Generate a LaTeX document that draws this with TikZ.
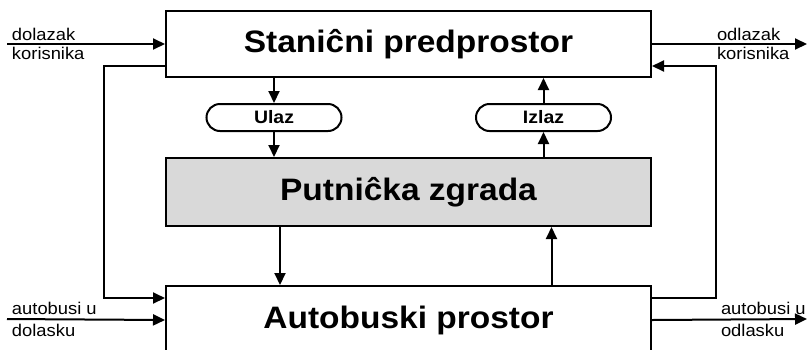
\documentclass[tikz,border=0pt]{standalone}
\usepackage{fontspec}
\setmainfont{Liberation Sans}[FakeStretch=1.08]
\usepackage{xcolor}
\usetikzlibrary{positioning,arrows.meta}
\definecolor{zgradagray}{RGB}{217,217,217}

\begin{document}
\begin{tikzpicture}
[
x=1pt, y=-1pt,
line width=2pt,
>={Triangle[length=12pt, width=11pt]},
box-a/.style={rectangle, draw, minimum width=485pt, minimum height=66pt, font=\fontsize{31}{35}\selectfont\bfseries},
box-b/.style={box-a, fill=zgradagray, minimum height=68pt},
pill-a/.style={rectangle, draw, rounded corners=13.5pt, minimum width=135pt, minimum height=27pt, inner sep=0pt, font=\fontsize{18}{20}\selectfont\bfseries},
text-a/.style={inner sep=0pt, font=\fontsize{17}{19}\selectfont}
]

\useasboundingbox (0,0) rectangle (808,349);

\node (stanica) [box-a]                            at (408.5,44) {Staniĉni predprostor};
\node (zgrada)  [box-b, below = 79pt of stanica]                {Putniĉka zgrada};
\node (autobus) [box-a, below = 58pt of zgrada, minimum height=68pt] {Autobuski prostor};
\node (ulaz)    [pill-a]                           at (274,117.5) {Ulaz};
\node (izlaz)   [pill-a]                           at (543.5,117.5) {Izlaz};

\coordinate (dolazak-in)  at (7,44);
\coordinate (odlazak-out) at (807,44);
\coordinate (bus-in)      at (7,319);
\coordinate (bus-out)     at (807,319);

\node (dolazak-t) [text-a, anchor=base west] at (11,40)  {dolazak};
\node (dolazak-b) [text-a, anchor=base west] at (11,59)  {korisnika};
\node (odlazak-t) [text-a, anchor=base west] at (716,40) {odlazak};
\node (odlazak-b) [text-a, anchor=base west] at (716,59) {korisnika};
\node (bus-in-t)  [text-a, anchor=base west] at (11,314)  {autobusi u};
\node (bus-in-b)  [text-a, anchor=base west] at (11,336)  {dolasku};
\node (bus-out-t) [text-a, anchor=base west] at (720,314) {autobusi u};
\node (bus-out-b) [text-a, anchor=base west] at (720,336) {odlasku};

\draw [->] (dolazak-in) -- (stanica.west);
\draw [->] (stanica.east) -- (odlazak-out);
\draw [->] (bus-in) -- (autobus.west);
\draw [->] (autobus.east) -- (bus-out);

\draw [->] (stanica.south -| ulaz) -- (ulaz.north);
\draw [->] (ulaz.south) -- (zgrada.north -| ulaz);
\draw [->] (zgrada.north -| izlaz) -- (izlaz.south);
\draw [->] (izlaz.north) -- (stanica.south -| izlaz);
\draw [->] ([xshift=-128.5pt]zgrada.south) -- ([xshift=-128.5pt]autobus.north);
\draw [->] ([xshift=143pt]autobus.north) -- ([xshift=143pt]zgrada.south);

\draw [->] ([yshift=-22pt]stanica.west) -- ++(-61,0) |- ([yshift=22pt]autobus.west);
\draw [->] ([yshift=22pt]autobus.east) -- ++(64,0) |- ([yshift=-22pt]stanica.east);

\end{tikzpicture}
\end{document}
